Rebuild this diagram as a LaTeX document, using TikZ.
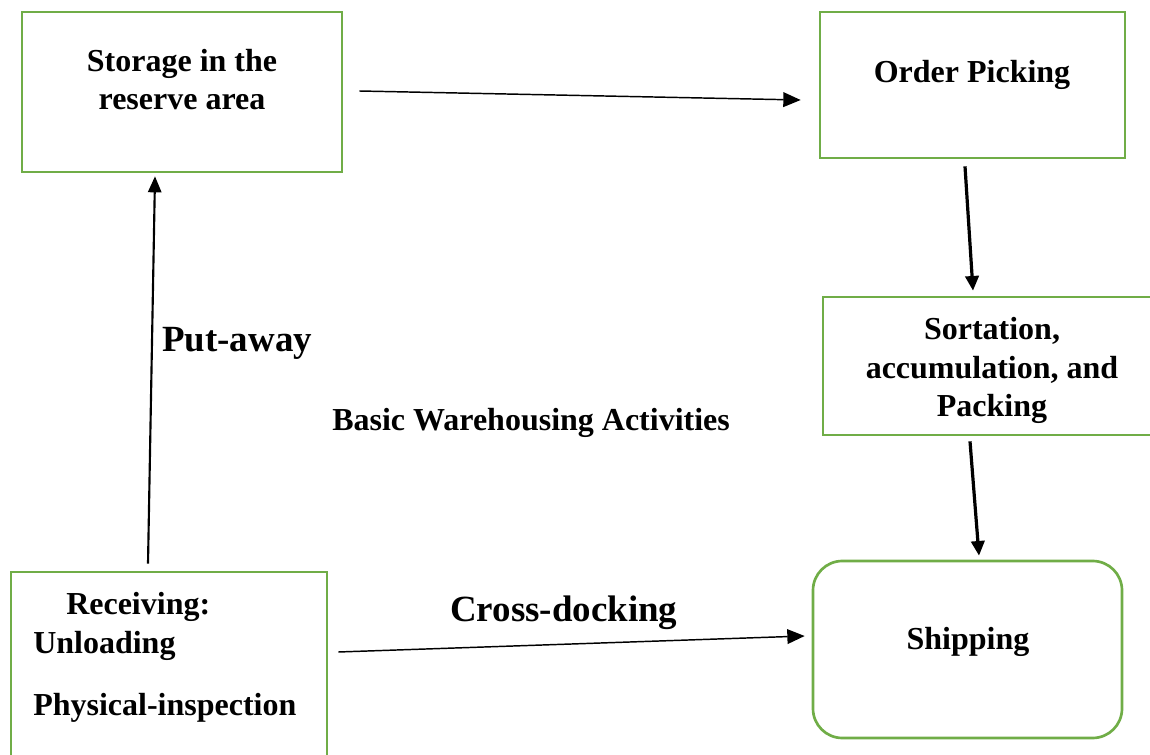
\documentclass[tikz,border=0pt]{standalone}
\usepackage{fontspec}
\setmainfont{Liberation Serif}
\usetikzlibrary{arrows.meta}
\definecolor{boxgreen}{HTML}{70AD47}
\begin{document}
\begin{tikzpicture}[x=0.75pt,y=-0.75pt,
  box/.style={draw=boxgreen,line width=2pt,rectangle,inner sep=0pt},
  txt/.style={inner sep=0pt,font=\bfseries\fontsize{24pt}{29pt}\selectfont},
  bigtxt/.style={inner sep=0pt,font=\bfseries\fontsize{27.7pt}{33pt}\selectfont},
  thinarrow/.style={draw=black,line width=1.1pt,-{Triangle[length=13pt,width=11pt]}},
  thickarrow/.style={draw=black,line width=2.4pt,-{Triangle[length=11pt,width=10pt]}},
  midarrow/.style={draw=black,line width=1.6pt,-{Triangle[length=12pt,width=10pt]}}]
\useasboundingbox (0,0) rectangle (1150,755);
% boxes
\node[box,minimum width=240pt,minimum height=120pt] (storage) at (182,92) {};
\node[box,minimum width=228.75pt,minimum height=109.5pt] (order) at (972.5,85) {};
\node[box,minimum width=246.75pt,minimum height=103.5pt] (sort) at (987.5,366) {};
\node[box,rounded corners=22pt,minimum width=231.75pt,minimum height=132.75pt] (ship) at (967.5,649.5) {};
\node[box,minimum width=237pt,minimum height=148.5pt] (recv) at (169,671) {};
% box texts (base anchor = baseline of last line)
\node[txt,align=center,anchor=base] (storagetxt) at (182,110) {Storage in the\\reserve area};
\node[txt,anchor=base] (ordertxt) at (972,83) {Order Picking};
\node[txt,align=center,anchor=base] (sorttxt) at (992,417) {Sortation,\\accumulation, and\\Packing};
\node[txt,anchor=base] (shiptxt) at (968,649) {Shipping};
\node[txt,align=left,anchor=base west] (recvtxt) at (33,715) {\hspace*{24.75pt}Receiving:\\Unloading\\[17.5pt]Physical-inspection};
% free labels
\node[bigtxt,anchor=base west] (putaway) at (162,352) {Put-away};
\node[txt,anchor=base west] (basic) at (332,431) {Basic Warehousing Activities};
\node[bigtxt,anchor=base west] (cross) at (450,621) {Cross-docking};
% connectors
\draw[thinarrow] ([shift={(16,-1)}]storage.east) -- ([shift={(-18,15)}]order.west);
\draw[thickarrow] ([shift={(-7.5,7)}]order.south) -- ([shift={(-14.5,-5)}]sort.north);
\draw[thickarrow] ([shift={(-17.5,5)}]sort.south) -- ([shift={(11.5,-4)}]ship.north);
\draw[midarrow] ([shift={(-21,-7)}]recv.north) -- ([shift={(-27,3)}]storage.south);
\draw[thinarrow] ([shift={(10,-19)}]recv.east) -- ([shift={(-7,-13.5)}]ship.west);
\end{tikzpicture}
\end{document}
